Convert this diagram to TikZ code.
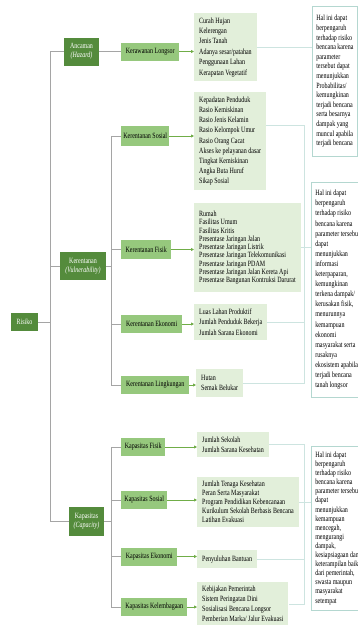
\documentclass[tikz,border=0pt]{standalone}
\usepackage{fontspec}
\setmainfont[FakeStretch=0.75]{Liberation Serif}
\usetikzlibrary{arrows.meta}
\definecolor{dk}{RGB}{84,139,60}
\definecolor{md}{RGB}{150,200,125}
\definecolor{lt}{RGB}{226,239,218}
\definecolor{gl}{RGB}{165,165,165}
\definecolor{ar}{RGB}{112,173,71}
\definecolor{tl}{RGB}{205,228,224}
\definecolor{rb}{RGB}{180,215,208}
\tikzset{
  dkbox/.style={fill=dk, text=white, align=center, inner sep=1pt, font=\fontsize{8}{9}\selectfont},
  mdbox/.style={fill=md, anchor=west, inner sep=1pt, minimum height=18pt, font=\fontsize{8}{9}\selectfont},
  ltbox/.style={fill=lt, anchor=north west, inner xsep=5pt, inner ysep=0pt, align=left},
  rtbox/.style={draw=rb, line width=0.6pt, fill=white, anchor=north west, inner xsep=4pt, inner ysep=0pt, align=left},
  tree/.style={draw=gl, line width=0.7pt},
  arr/.style={draw=ar, line width=0.8pt, -{Triangle[length=3pt,width=3pt]}},
  thinln/.style={draw=tl, line width=0.6pt},
}
\begin{document}
\begin{tikzpicture}[x=1pt,y=-1pt]
\useasboundingbox (0,0) rectangle (358,625);
\fill[white] (0,0) rectangle (358,625);

% dark boxes
\node[dkbox, minimum width=27pt, minimum height=18pt] (risiko) at (24.5,322) {Risiko};
\node[dkbox, minimum width=35pt, minimum height=28pt] (anc) at (81.5,51.5) {Ancaman\\\textit{(Hazard)}};
\node[dkbox, minimum width=46pt, minimum height=28pt] (ker) at (83,266) {Kerentanan\\\textit{(Vulnerability)}};
\node[dkbox, minimum width=35pt, minimum height=29pt] (kap) at (86.5,521.5) {Kapasitas\\\textit{(Capacity)}};

% mid boxes
\node[mdbox, minimum width=58pt] (kl) at (121,51.5) {Kerawanan Longsor};
\node[mdbox, minimum width=48pt, minimum height=20pt] (ks) at (121,136) {Kerentanan Sosial};
\node[mdbox, minimum width=50pt, minimum height=19pt] (kf) at (121,249.5) {Kerentanan Fisik};
\node[mdbox, minimum width=61pt] (ke) at (121,324) {Kerentanan Ekonomi};
\node[mdbox, minimum width=68pt] (kli) at (121,385) {Kerentanan Lingkungan};
\node[mdbox, minimum width=44pt] (cf) at (121,447) {Kapasitas Fisik};
\node[mdbox, minimum width=46pt] (cs) at (121,500) {Kapasitas Sosial};
\node[mdbox, minimum width=56pt] (ce) at (121,556.5) {Kapasitas Ekonomi};
\node[mdbox, minimum width=66pt] (ckl) at (121,607) {Kapasitas Kelembagaan};

% list boxes
\node[ltbox, minimum height=68pt, font=\fontsize{8}{10.4}\selectfont] (l1) at (194,13)
  {Curah Hujan\\Kelerengan\\Jenis Tanah\\Adanya sesar/patahan\\Penggunaan Lahan\\Kerapatan Vegetatif};
\node[ltbox, minimum height=98pt, font=\fontsize{8}{10.2}\selectfont] (l2) at (194,92)
  {Kepadatan Penduduk\\Rasio Kemiskinan\\Rasio Jenis Kelamin\\Rasio Kelompok Umur\\Rasio Orang Cacat\\Akses ke pelayanan dasar\\Tingkat Kemiskinan\\Angka Buta Huruf\\Sikap Sosial};
\node[ltbox, minimum height=89pt, font=\fontsize{8}{8.3}\selectfont] (l3) at (194,203)
  {Rumah\\Fasilitas Umum\\Fasilitas Kritis\\Presentase Jaringan Jalan\\Presentase Jaringan Listrik\\Presentase Jaringan Telekomunikasi\\Presentase Jaringan PDAM\\Presentase Jaringan Jalan Kereta Api\\Presentase Bangunan Kontruksi Darurat};
\node[ltbox, minimum height=36pt, font=\fontsize{8}{10.5}\selectfont] (l4) at (194,304)
  {Luas Lahan Produktif\\Jumlah Penduduk Bekerja\\Jumlah Sarana Ekonomi};
\node[ltbox, minimum height=28pt, font=\fontsize{8}{10.3}\selectfont] (l5) at (196,369)
  {Hutan\\Semak Belukar};
\node[ltbox, minimum height=25pt, font=\fontsize{8}{10}\selectfont] (l6) at (197,432)
  {Jumlah Sekolah\\Jumlah Sarana Kesehatan};
\node[ltbox, minimum height=50pt, font=\fontsize{8}{9}\selectfont] (l7) at (197,477)
  {Jumlah Tenaga Kesehatan\\Peran Serta Masyarakat\\Program Pendidikan Kebencanaan\\Kurikulum Sekolah Berbasis Bencana\\Latihan Evakuasi};
\node[ltbox, minimum height=18pt, font=\fontsize{8}{10}\selectfont] (l8) at (197,550)
  {Penyuluhan Bantuan};
\node[ltbox, minimum height=44pt, font=\fontsize{8}{10}\selectfont] (l9) at (197,582)
  {Kebijakan Pemerintah\\Sistem Peringatan Dini\\Sosialisasi Bencana Longsor\\Pemberian Marka/ Jalur Evakuasi};

% right boxes
\node[rtbox, minimum height=150pt, font=\fontsize{8}{9.6}\selectfont] (r1) at (312,6)
  {Hal ini dapat\\berpengaruh\\terhadap risiko\\bencana karena\\parameter\\tersebut dapat\\menunjukkan\\Probabilitas/\\kemungkinan\\terjadi bencana\\serta besarnya\\dampak yang\\muncul apabila\\terjadi bencana};
\node[rtbox, minimum height=215pt, font=\fontsize{8}{10.1}\selectfont] (r2) at (311,182)
  {Hal ini dapat\\berpengaruh\\terhadap risiko\\bencana karena\\parameter tersebut\\dapat\\menunjukkan\\informasi\\keterpaparan,\\kemungkinan\\terkena dampak/\\kerusakan fisik,\\menurunnya\\kemampuan\\ekonomi\\masyarakat serta\\rusaknya\\ekosistem apabila\\terjadi bencana\\tanah longsor};
\node[rtbox, minimum height=164pt, font=\fontsize{8}{9.1}\selectfont] (r3) at (311,446)
  {Hal ini dapat\\berpengaruh\\terhadap risiko\\bencana karena\\parameter tersebut\\dapat\\menunjukkan\\kemampuan\\mencegah,\\mengurangi\\dampak,\\kesiapsiagaan dan\\keterampilan baik\\dari pemerintah,\\swasta maupun\\masyarakat\\setempat};

% tree connectors
\coordinate (v1) at (50,0);
\coordinate (v2) at (111,0);
\coordinate (v3) at (304,0);
\draw[tree] (anc.west) -- (anc.west -| v1) -- (kap.west -| v1) -- (kap.west);
\draw[tree] (ker.west) -- (ker.west -| v1);
\draw[tree] (risiko.east) -- (risiko.east -| v1);
\draw[tree] (anc.east) -- (kl.west);

\draw[tree] (ks.west) -- (ks.west -| v2) -- (kli.west -| v2) -- (kli.west);
\draw[tree] (kf.west) -- (kf.west -| v2);
\draw[tree] (ke.west) -- (ke.west -| v2);
\draw[tree] (ker.east) -- (ker.east -| v2);

\draw[tree] (cf.west) -- (cf.west -| v2) -- (ckl.west -| v2) -- (ckl.west);
\draw[tree] (cs.west) -- (cs.west -| v2);
\draw[tree] (ce.west) -- (ce.west -| v2);
\draw[tree] (kap.east) -- (kap.east -| v2);

% arrows
\draw[arr] (kl.east) -- (kl.east -| l1.west);
\draw[arr] (ks.east) -- (ks.east -| l2.west);
\draw[arr] (kf.east) -- (kf.east -| l3.west);
\draw[arr] (ke.east) -- (ke.east -| l4.west);
\draw[arr] (kli.east) -- (kli.east -| l5.west);
\draw[arr] (cf.east) -- (cf.east -| l6.west);
\draw[arr] (cs.east) -- (cs.east -| l7.west);
\draw[arr] (ce.east) -- (ce.east -| l8.west);
\draw[arr] (ckl.east) -- (ckl.east -| l9.west);

% right connectors
\draw[thinln] (l1.east) -- (l1.east -| r1.west);
\draw[thinln] ([yshift=-33pt]l2.north east) coordinate (a2) -- (a2 -| v3) -- (l5.east -| v3) -- (l5.east);
\draw[thinln] (l3.east) -- (l3.east -| r2.west);
\draw[thinln] (l4.east) -- (l4.east -| v3);
\draw[thinln] (l6.east) -- (l6.east -| v3) -- (l9.east -| v3) -- (l9.east);
\draw[thinln] (l7.east) -- (l7.east -| r3.west);
\draw[thinln] (l8.east) -- (l8.east -| v3);
\end{tikzpicture}
\end{document}
